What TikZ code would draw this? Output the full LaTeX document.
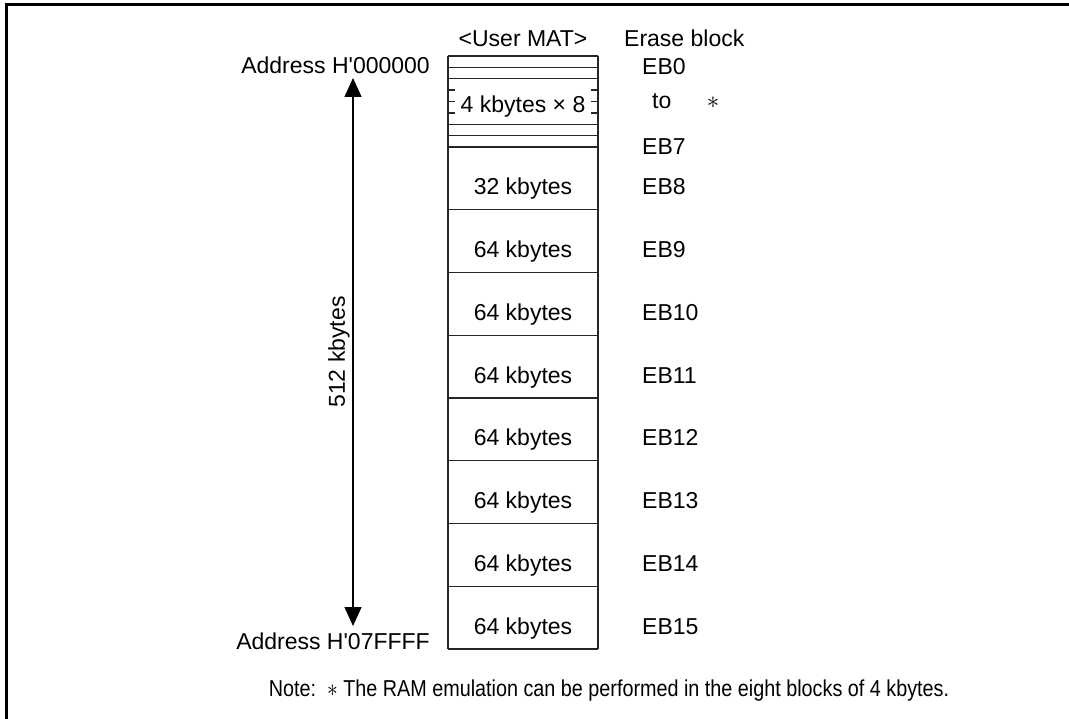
\documentclass[tikz,border=0pt]{standalone}
\usepackage{fontspec}
\setmainfont{Liberation Sans}
\usetikzlibrary{arrows.meta}
\begin{document}
\begin{tikzpicture}[x=1pt,y=-1pt,
  lbl/.style={font=\fontsize{23}{27}\selectfont,inner sep=0pt,anchor=base},
  eb/.style={lbl,anchor=base west},
  boxline/.style={line width=1.4pt,draw=black!85},
  frameline/.style={line width=3pt}]
\useasboundingbox (0,0) rectangle (1069,719);
% frame (top and left edges)
\draw[frameline] (6,719) -- (6,5) -- (1069,5);
% headings
\node[lbl] (umat) at (523,46.5) {<User MAT>};
\node[lbl,anchor=base west] (ehead) at (624,46.5) {Erase block};
% small blocks
\foreach \i in {0,...,8}{
  \draw[boxline] (448,{56+\i*11.375}) -- (598,{56+\i*11.375});
}
\draw[boxline] (448,56) -- (448,649);
\draw[boxline] (598,56) -- (598,649);
\fill[white] (455,87) rectangle (591,116);
\node[lbl] (k4) at (523,113) {4 kbytes × 8};
% large blocks
\foreach \i in {1,...,8}{
  \draw[boxline] (448,{147+\i*62.75}) -- (598,{147+\i*62.75});
}
\node[lbl] (k32) at (523,195) {32 kbytes};
\foreach \i/\n in {1/b9,2/b10,3/b11,4/b12,5/b13,6/b14,7/b15}{
  \node[lbl] (\n) at (523,{147+\i*62.75+48}) {64 kbytes};
}
% erase block labels
\node[eb] (eb0) at (642,75) {EB0};
\node[eb] (to) at (652,109) {to};
\node[lbl,anchor=center] (ast) at (713,103) {$\ast$};
\node[eb] (eb7) at (642,155) {EB7};
\foreach \i in {8,...,15}{
  \node[eb] (eb\i) at (642,{147+(\i-8)*62.75+48}) {EB\i};
}
% addresses
\node[lbl,anchor=base east] (a0) at (430,73.5) {Address H\textquotesingle000000};
\node[lbl,anchor=base east] (a1) at (430,649) {Address H\textquotesingle07FFFF};
% size arrow
\coordinate (atop) at (353,78);
\coordinate (abot) at (353,626);
\draw[line width=1.4pt,{Triangle[length=19pt,width=17pt]}-{Triangle[length=19pt,width=17pt]}] (atop) -- (abot);
\node[lbl,anchor=center,rotate=90] (size) at (339,352) {512 kbytes};
% note
\node[lbl] (note) at (609,696) {\scalebox{0.86}[1]{Note:\ \ $\ast$ The RAM emulation can be performed in the eight blocks of 4 kbytes.}};
\end{tikzpicture}
\end{document}
